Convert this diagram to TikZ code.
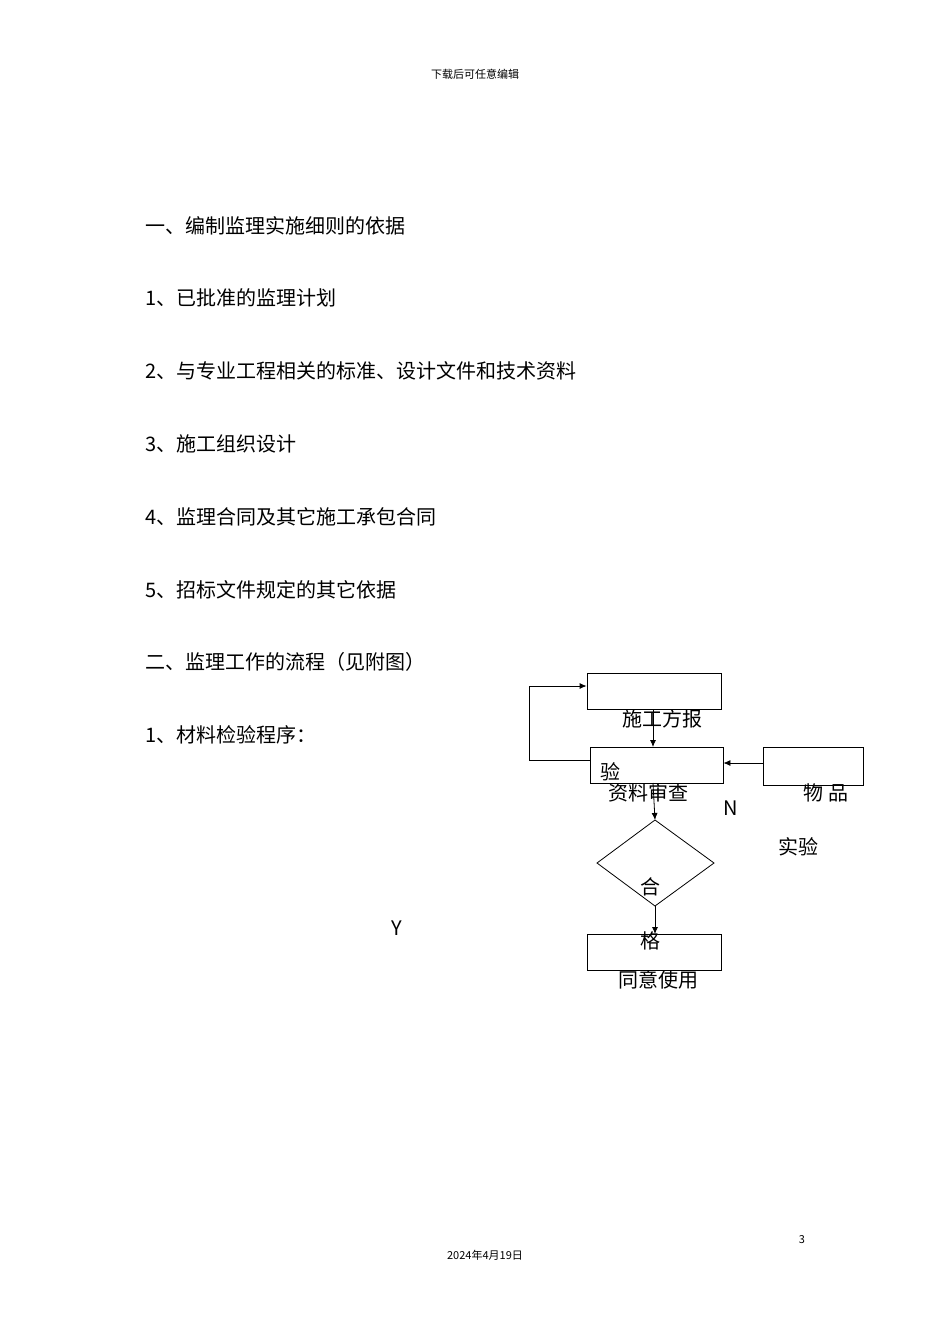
\documentclass[tikz,border=0pt]{standalone}
\usepackage{fontspec}
\setmainfont{Noto Sans CJK SC}
\newfontfamily\cjk{Noto Sans CJK SC}
\usetikzlibrary{arrows.meta}
\begin{document}
\begin{tikzpicture}[x=1pt,y=-1pt,
  txt/.style={inner sep=0pt,font=\fontsize{20}{24}\selectfont},
  body/.style={txt,anchor=west},
  boxn/.style={draw,line width=0.8pt,inner sep=0pt},
  arr/.style={-{Latex[length=7pt,width=6pt]},line width=0.8pt}]
\useasboundingbox[fill=white] (0,0) rectangle (950,1344);
\node[txt,font=\fontsize{11}{13}\selectfont] (hd) at (475,74) {下载后可任意编辑};
\node[txt,font=\fontsize{11}{13}\selectfont] (ft) at (485,1255) {2024年4月19日};
\node[txt,font=\fontsize{11}{13}\selectfont] (pg) at (802,1240) {3};
\node[body] (l1) at (145,226) {一、编制监理实施细则的依据};
\node[body] (l2) at (145,298) {1、已批准的监理计划};
\node[body] (l3) at (145,371) {2、与专业工程相关的标准、设计文件和技术资料};
\node[body] (l4) at (145,444) {3、施工组织设计};
\node[body] (l5) at (145,517) {4、监理合同及其它施工承包合同};
\node[body] (l6) at (145,590) {5、招标文件规定的其它依据};
\node[body] (l7) at (145,662) {二、监理工作的流程（见附图）};
\node[body] (l8) at (145,735) {1、材料检验程序：};
\node[txt] (y) at (397,928) {Y};
% boxes
\node[boxn,minimum width=134pt,minimum height=36pt] (b1) at (654,691) {};
\node[boxn,minimum width=133pt,minimum height=36pt] (b2) at (656.5,765) {};
\node[boxn,minimum width=100pt,minimum height=38pt] (b3) at (813,766) {};
\draw[line width=0.8pt] (597,863) coordinate (dl) -- (655,820) coordinate (dt) -- (714,863) -- (655,906) coordinate (db) -- cycle;
\node[boxn,minimum width=134pt,minimum height=36pt] (b4) at (654,952) {};
\coordinate (c1) at (529,760);
\coordinate (c2) at (529,686);
\draw[arr] (b2.west|-c1) -- (c1) -- (c2) -- (b1.west|-c2);
\draw[arr] (653,709) -- (653,747);
\draw[arr] (653,783) -- (dt);
\draw[arr] (db) -- (655,934);
\draw[arr] (b3.west|-0,763) -- (b2.east|-0,763);
% labels
\node[txt] (t1) at (662,719) {施工方报};
\node[txt] (t2) at (610,772) {验};
\node[txt] (t3) at (648,793) {资料审查};
\node[txt] (t4) at (731,808) {N};
\node[txt] (t5) at (826,793) {物 品};
\node[txt] (t6) at (798,847) {实验};
\node[txt] (t7) at (650,887) {合};
\node[txt] (t8) at (650,941) {格};
\node[txt] (t9) at (658,980) {同意使用};
\end{tikzpicture}
\end{document}
